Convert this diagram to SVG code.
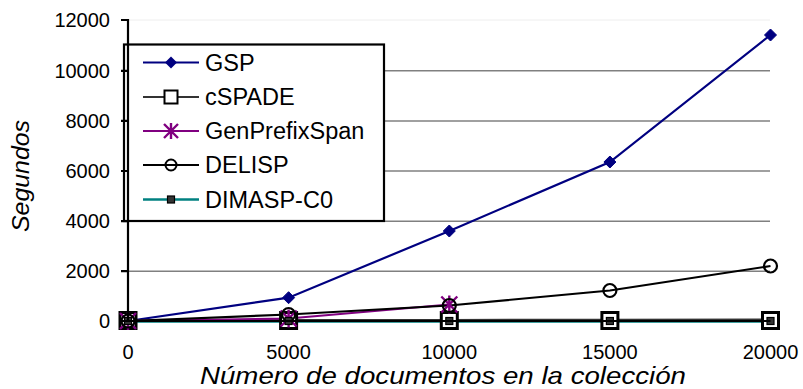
<svg xmlns="http://www.w3.org/2000/svg" xmlns:xlink="http://www.w3.org/1999/xlink" width="803" height="389" viewBox="0 0 803 389">
  <style>
    text { font-family: "Liberation Sans", Arial, sans-serif; fill: #000; }
    .tick { font-size: 20px; }
    .ylab { text-anchor: end; }
    .xlab { text-anchor: middle; }
    .title { font-size: 24px; font-style: italic; }
    .leg { font-size: 23.5px; }
    .grid { stroke: #808080; stroke-width: 1.5; fill: none; }
    .axis { stroke: #000; stroke-width: 2.2; fill: none; }
    .s-gsp { stroke: #000080; stroke-width: 2.2; fill: none; }
    .s-cspade { stroke: #333333; stroke-width: 2.2; fill: none; }
    .s-gps { stroke: #800080; stroke-width: 2.2; fill: none; }
    .s-delisp { stroke: #000; stroke-width: 2.2; fill: none; }
    .s-dimasp { stroke: #008080; stroke-width: 2.4; fill: none; }
  </style>
  <defs>
    <!-- series markers, centred on 0,0 -->
    <path id="m-diamond" d="M0,-6 L6,0 L0,6 L-6,0 Z" fill="#000080" stroke="#000080" stroke-width="1"/>
    <rect id="m-square" x="-8" y="-8" width="16" height="16" fill="#fff" stroke="#000" stroke-width="3"/>
    <g id="m-star" stroke="#800080" stroke-width="2.4" fill="none">
      <path d="M0,-9 V9 M-8,-8 L8,8 M8,-8 L-8,8"/>
    </g>
    <circle id="m-circle" r="6.5" fill="none" stroke="#000" stroke-width="2.2"/>
    <rect id="m-small" x="-3.5" y="-3.5" width="7" height="7" fill="#333" stroke="#000" stroke-width="1.2"/>

    <rect id="l-square" x="-6.5" y="-6.5" width="13" height="13" fill="#fff" stroke="#000" stroke-width="2"/>
    <g id="l-star" stroke="#800080" stroke-width="2.4" fill="none">
      <path d="M0,-8 V8 M-7,-7 L7,7 M7,-7 L-7,7"/>
    </g>
    <circle id="l-circle" r="5.5" fill="none" stroke="#000" stroke-width="2"/>
    <rect id="l-small" x="-3.5" y="-3.5" width="7" height="7" fill="#333" stroke="#000" stroke-width="1.2"/>
  </defs>

  <rect width="803" height="389" fill="#fff"/>

  <!-- plot area frame and gridlines -->
  <g id="plot-area">
    <line x1="128" y1="20" x2="770" y2="20" stroke="#eeeeee" stroke-width="1"/>
    <line class="grid" x1="128" y1="70.8" x2="770" y2="70.8"/>
    <line class="grid" x1="128" y1="120.9" x2="770" y2="120.9"/>
    <line class="grid" x1="128" y1="171" x2="770" y2="171"/>
    <line class="grid" x1="128" y1="221.2" x2="770" y2="221.2"/>
    <line class="grid" x1="128" y1="271.2" x2="770" y2="271.2"/>
  </g>

  <!-- data lines -->
  <g id="series-lines">
    <polyline class="s-gsp" points="128,321 288.6,297.7 449.3,231 609.9,162 770.5,35"/>
    <polyline class="s-cspade" points="128,320.5 288.6,320.2 449.3,320 609.9,319.8 770.5,319.5"/>
    <polyline class="s-gps" points="128,321 288.6,318.5 449.3,304.5"/>
    <polyline class="s-delisp" points="128,321 288.6,314.5 449.3,305.5 609.9,290.5 770.5,266"/>
    <polyline class="s-dimasp" points="128,321.6 288.6,321.6 449.3,321.6 609.9,321.6 770.5,321.6"/>
  </g>

  <!-- data markers -->
  <g id="series-markers">
    <use xlink:href="#m-diamond" x="128" y="321"/>
    <use xlink:href="#m-diamond" x="288.6" y="297.7"/>
    <use xlink:href="#m-diamond" x="449.3" y="231"/>
    <use xlink:href="#m-diamond" x="609.9" y="162"/>
    <use xlink:href="#m-diamond" x="770.5" y="35"/>

    <use xlink:href="#m-square" x="128" y="320.5"/>
    <use xlink:href="#m-square" x="288.6" y="320.5"/>
    <use xlink:href="#m-square" x="449.3" y="320.5"/>
    <use xlink:href="#m-square" x="609.9" y="320.5"/>
    <use xlink:href="#m-square" x="770.5" y="320.5"/>

    <use xlink:href="#m-star" x="128" y="321"/>
    <use xlink:href="#m-star" x="288.6" y="318.5"/>
    <use xlink:href="#m-star" x="449.3" y="304.5"/>

    <use xlink:href="#m-circle" x="128" y="321"/>
    <use xlink:href="#m-circle" x="288.6" y="314.5"/>
    <use xlink:href="#m-circle" x="449.3" y="305.5"/>
    <use xlink:href="#m-circle" x="609.9" y="290.5"/>
    <use xlink:href="#m-circle" x="770.5" y="266"/>

    <use xlink:href="#m-small" x="128" y="321"/>
    <use xlink:href="#m-small" x="288.6" y="321"/>
    <use xlink:href="#m-small" x="449.3" y="321"/>
    <use xlink:href="#m-small" x="609.9" y="321"/>
    <use xlink:href="#m-small" x="770.5" y="321"/>
  </g>

  <!-- legend -->
  <g id="legend">
    <rect x="124" y="44.5" width="260" height="176.5" fill="#fff" stroke="#000" stroke-width="2.2"/>
    <g id="legend-gsp">
      <line class="s-gsp" x1="143" y1="62.5" x2="199" y2="62.5"/>
      <path d="M171,56.5 L177,62.5 L171,68.5 L165,62.5 Z" fill="#000080"/>
      <text class="leg" x="205" y="70.5">GSP</text>
    </g>
    <g id="legend-cspade">
      <line class="s-cspade" x1="143" y1="97" x2="199" y2="97"/>
      <use xlink:href="#l-square" x="171" y="97"/>
      <text class="leg" x="205" y="105">cSPADE</text>
    </g>
    <g id="legend-genprefixspan">
      <line class="s-gps" x1="143" y1="131" x2="199" y2="131"/>
      <use xlink:href="#l-star" x="171" y="131"/>
      <text class="leg" x="205" y="139">GenPrefixSpan</text>
    </g>
    <g id="legend-delisp">
      <line class="s-delisp" x1="143" y1="165" x2="199" y2="165"/>
      <use xlink:href="#l-circle" x="171" y="165"/>
      <text class="leg" x="205" y="173">DELISP</text>
    </g>
    <g id="legend-dimasp">
      <line class="s-dimasp" x1="143" y1="199.5" x2="199" y2="199.5"/>
      <use xlink:href="#l-small" x="171" y="199.5"/>
      <text class="leg" x="205" y="207.5">DIMASP-C0</text>
    </g>
  </g>

  <!-- axes -->
  <g id="axes">
    <line class="axis" x1="128" y1="19" x2="128" y2="322"/>
    <line class="axis" x1="127" y1="321" x2="770.5" y2="321"/>
    <path class="axis" d="M121,20 H128 M121,70.8 H128 M121,120.9 H128 M121,171 H128 M121,221.2 H128 M121,271.2 H128 M121,321 H128"/>
  </g>

  <!-- tick labels -->
  <g id="y-labels" class="tick">
    <text class="ylab" x="110" y="27">12000</text>
    <text class="ylab" x="110" y="77.8">10000</text>
    <text class="ylab" x="110" y="127.9">8000</text>
    <text class="ylab" x="110" y="178">6000</text>
    <text class="ylab" x="110" y="228.2">4000</text>
    <text class="ylab" x="110" y="278.2">2000</text>
    <text class="ylab" x="110" y="328">0</text>
  </g>
  <g id="x-labels" class="tick">
    <text class="xlab" x="128" y="359">0</text>
    <text class="xlab" x="288.6" y="359">5000</text>
    <text class="xlab" x="449.3" y="359">10000</text>
    <text class="xlab" x="609.9" y="359">15000</text>
    <text class="xlab" x="770.5" y="359">20000</text>
  </g>

  <!-- axis titles -->
  <text class="title" x="443" y="384" text-anchor="middle" textLength="486" lengthAdjust="spacingAndGlyphs">Número de documentos en la colección</text>
  <text class="title" transform="translate(29,176) rotate(-90)" text-anchor="middle" textLength="112" lengthAdjust="spacingAndGlyphs">Segundos</text>
</svg>
